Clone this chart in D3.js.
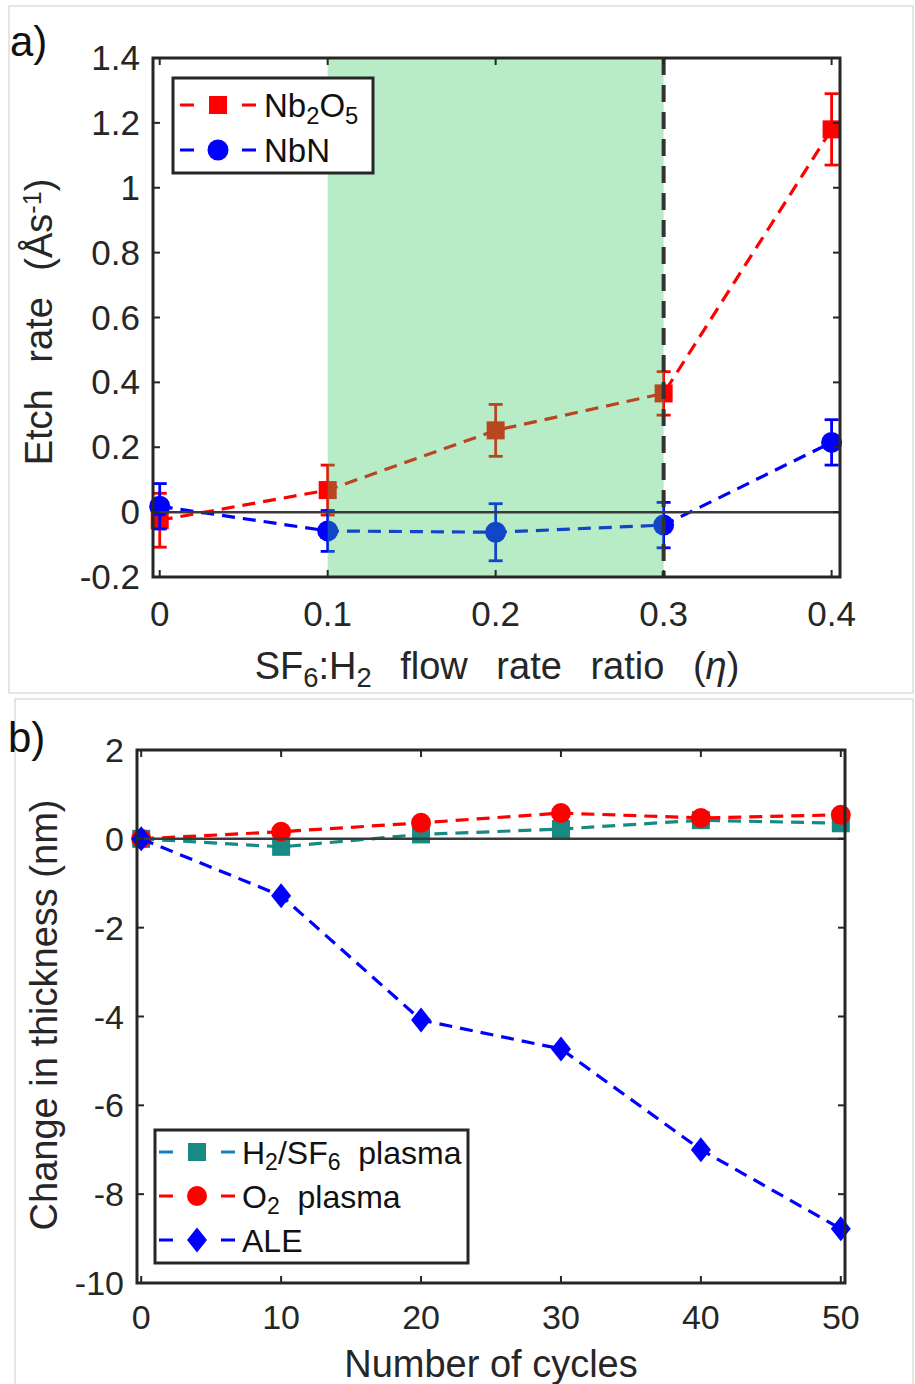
<!DOCTYPE html>
<html>
<head>
<meta charset="utf-8">
<script src="https://cdn.jsdelivr.net/npm/d3@7"></script>
<style>
  html, body { margin: 0; padding: 0; background: #fff; }
  svg { display: block; font-family: "Liberation Sans", Arial, sans-serif; }
</style>
</head>
<body>
<svg id="chart" width="915" height="1384"></svg>
<script>
// ---- panel a data ----
const ratio = [0, 0.1, 0.2, 0.3, 0.4];
const nb2o5Rate = [-0.025, 0.068, 0.252, 0.366, 1.18];
const nb2o5Err = [0.083, 0.077, 0.08, 0.067, 0.11];
const nbnRate = [0.018, -0.058, -0.062, -0.04, 0.215];
const nbnErr = [0.07, 0.063, 0.088, 0.07, 0.07];
const ratioTicks = [0, 0.1, 0.2, 0.3, 0.4];
const rateTicks = [-0.2, 0, 0.2, 0.4, 0.6, 0.8, 1, 1.2, 1.4];
const etchWindow = [0.1, 0.3];

// ---- panel b data ----
const cycles = [0, 10, 20, 30, 40, 50];
const h2sf6Change = [0, -0.18, 0.1, 0.22, 0.42, 0.35];
const o2Change = [0, 0.16, 0.36, 0.58, 0.47, 0.54];
const aleChange = [0, -1.28, -4.08, -4.73, -7.0, -8.78];
const cycleTicks = [0, 10, 20, 30, 40, 50];
const changeTicks = [-10, -8, -6, -4, -2, 0, 2];

const svg = d3.select('#chart');
const axisColor = '#262626';
const fmt = d => String(+d.toFixed(1));

function subText(sel, parts) {
    // parts: [text, isSub, isSup]
    parts.forEach(([t, sub, sup]) => {
        const ts = sel.append('tspan').text(t);
        if (sub) ts.attr('font-size', '0.72em').attr('baseline-shift', '-28%');
        if (sup) ts.attr('font-size', '0.66em').attr('baseline-shift', '45%');
    });
}

function frame(x0, y0, x1, y1) {
    svg.append('rect')
        .attr('x', x0).attr('y', y0)
        .attr('width', x1 - x0).attr('height', y1 - y0)
        .attr('fill', 'none').attr('stroke', '#d4d4d4').attr('stroke-width', 1.2);
}

function box(g, x, y, ticksX, ticksY, tickLen) {
    const [l, r] = x.range();
    const [b, t] = y.range();
    g.append('rect')
        .attr('x', l).attr('y', t).attr('width', r - l).attr('height', b - t)
        .attr('fill', 'none').attr('stroke', axisColor).attr('stroke-width', 3);
    ticksX.forEach(v => {
        g.append('line').attr('x1', x(v)).attr('x2', x(v)).attr('y1', b).attr('y2', b - tickLen)
            .attr('stroke', axisColor).attr('stroke-width', 2);
        g.append('line').attr('x1', x(v)).attr('x2', x(v)).attr('y1', t).attr('y2', t + tickLen)
            .attr('stroke', axisColor).attr('stroke-width', 2);
    });
    ticksY.forEach(v => {
        g.append('line').attr('x1', l).attr('x2', l + tickLen).attr('y1', y(v)).attr('y2', y(v))
            .attr('stroke', axisColor).attr('stroke-width', 2);
        g.append('line').attr('x1', r).attr('x2', r - tickLen).attr('y1', y(v)).attr('y2', y(v))
            .attr('stroke', axisColor).attr('stroke-width', 2);
    });
}

function marker(g, shape, cx, cy, size, color) {
    if (shape === 'square') {
        g.append('rect').attr('x', cx - size / 2).attr('y', cy - size / 2)
            .attr('width', size).attr('height', size).attr('fill', color);
    } else if (shape === 'circle') {
        g.append('circle').attr('cx', cx).attr('cy', cy).attr('r', size / 2).attr('fill', color);
    } else {
        const w = size * 0.8 / 2, h = size / 2;
        g.append('path')
            .attr('d', `M${cx},${cy - h}L${cx + w},${cy}L${cx},${cy + h}L${cx - w},${cy}Z`)
            .attr('fill', color);
    }
}

function series(g, x, y, xs, ys, errs, color, shape, size) {
    const line = d3.line().x((d, i) => x(xs[i])).y(d => y(d));
    g.append('path').datum(ys).attr('d', line)
        .attr('fill', 'none').attr('stroke', color).attr('stroke-width', 3.2)
        .attr('stroke-dasharray', '13,8');
    if (errs) {
        ys.forEach((v, i) => {
            const cx = x(xs[i]);
            const top = y(v + errs[i]), bot = y(v - errs[i]);
            g.append('line').attr('x1', cx).attr('x2', cx).attr('y1', top).attr('y2', bot)
                .attr('stroke', color).attr('stroke-width', 2.8);
            [top, bot].forEach(yy => g.append('line')
                .attr('x1', cx - 7).attr('x2', cx + 7).attr('y1', yy).attr('y2', yy)
                .attr('stroke', color).attr('stroke-width', 2.8));
        });
    }
    ys.forEach((v, i) => marker(g, shape, x(xs[i]), y(v), size, color));
}

function legend(g, x0, y0, x1, y1, entries, rowY, mx, tx, fs) {
    g.append('rect').attr('x', x0).attr('y', y0).attr('width', x1 - x0).attr('height', y1 - y0)
        .attr('fill', '#fff').attr('stroke', axisColor).attr('stroke-width', 3);
    entries.forEach((e, i) => {
        const yy = rowY[i];
        g.append('line').attr('x1', mx - 38).attr('x2', mx + 38).attr('y1', yy).attr('y2', yy)
            .attr('stroke', e.lineColor || e.color).attr('stroke-width', 3)
            .attr('stroke-dasharray', '14,48');
        marker(g, e.shape, mx, yy, e.size, e.color);
        const t = g.append('text').attr('x', tx).attr('y', yy + 12)
            .attr('font-size', fs).attr('fill', '#111').attr('xml:space', 'preserve');
        subText(t, e.label);
    });
}

// ================= panel a =================
frame(9, 6, 913, 693);
const xA = d3.scaleLinear().domain([-0.004, 0.405]).range([153, 840]);
const yA = d3.scaleLinear().domain([-0.2, 1.4]).range([577, 58]);
const gA = svg.append('g');

series(gA, xA, yA, ratio, nb2o5Rate, nb2o5Err, '#ff0000', 'square', 18);
series(gA, xA, yA, ratio, nbnRate, nbnErr, '#0000ff', 'circle', 21);

gA.append('rect')
    .attr('x', xA(etchWindow[0])).attr('y', yA(1.4))
    .attr('width', xA(etchWindow[1]) - xA(etchWindow[0])).attr('height', yA(-0.2) - yA(1.4))
    .attr('fill', 'rgb(50,200,95)').attr('fill-opacity', 0.35);

gA.append('line')
    .attr('x1', xA(etchWindow[1])).attr('x2', xA(etchWindow[1]))
    .attr('y1', yA(1.4)).attr('y2', yA(-0.2))
    .attr('stroke', '#333').attr('stroke-width', 4).attr('stroke-dasharray', '17,10');

gA.append('line')
    .attr('x1', xA.range()[0]).attr('x2', xA.range()[1]).attr('y1', yA(0)).attr('y2', yA(0))
    .attr('stroke', '#3a3a3a').attr('stroke-width', 2.5);

box(gA, xA, yA, ratioTicks, rateTicks, 7);

gA.selectAll('.xt').data(ratioTicks).enter().append('text')
    .attr('x', d => xA(d)).attr('y', 626).attr('text-anchor', 'middle')
    .attr('font-size', 35).attr('fill', '#262626').text(fmt);
gA.selectAll('.yt').data(rateTicks).enter().append('text')
    .attr('x', 140).attr('y', d => yA(d) + 12).attr('text-anchor', 'end')
    .attr('font-size', 35).attr('fill', '#262626').text(fmt);

const xlA = gA.append('text').attr('x', 497).attr('y', 679).attr('text-anchor', 'middle')
    .attr('font-size', 38).attr('fill', '#262626').attr('word-spacing', 18);
subText(xlA, [['SF'], ['6', true], [':H'], ['2', true], [' flow rate ratio ('], ['η'], [')']]);
xlA.selectAll('tspan').filter((d, i) => i === 5).attr('font-style', 'italic');

const ylA = gA.append('text').attr('transform', 'translate(52,322) rotate(-90)')
    .attr('text-anchor', 'middle').attr('font-size', 38).attr('fill', '#262626')
    .attr('word-spacing', 16);
subText(ylA, [['Etch rate (Ås'], ['-1', false, true], [')']]);

svg.append('text').attr('x', 10).attr('y', 56).attr('font-size', 42).attr('fill', '#111').text('a)');

legend(gA, 173, 78, 373, 173, [
    { label: [['Nb'], ['2', true], ['O'], ['5', true]], color: '#ff0000', shape: 'square', size: 18 },
    { label: [['NbN']], color: '#0000ff', shape: 'circle', size: 21 }
], [105, 150], 218, 264, 33);

// ================= panel b =================
frame(15, 699, 913, 1390);
const xB = d3.scaleLinear().domain([-0.3, 50.3]).range([137, 845]);
const yB = d3.scaleLinear().domain([-10, 2]).range([1283, 750]);
const gB = svg.append('g');

series(gB, xB, yB, cycles, h2sf6Change, null, '#188a84', 'square', 18);
series(gB, xB, yB, cycles, o2Change, null, '#ff0000', 'circle', 20);
series(gB, xB, yB, cycles, aleChange, null, '#0000ff', 'diamond', 25);

gB.append('line')
    .attr('x1', xB.range()[0]).attr('x2', xB.range()[1]).attr('y1', yB(0)).attr('y2', yB(0))
    .attr('stroke', '#3a3a3a').attr('stroke-width', 2.5);

box(gB, xB, yB, cycleTicks, changeTicks, 7);

gB.selectAll('.xt').data(cycleTicks).enter().append('text')
    .attr('x', d => xB(d)).attr('y', 1329).attr('text-anchor', 'middle')
    .attr('font-size', 34).attr('fill', '#262626').text(d => d);
gB.selectAll('.yt').data(changeTicks).enter().append('text')
    .attr('x', 124).attr('y', d => yB(d) + 12).attr('text-anchor', 'end')
    .attr('font-size', 34).attr('fill', '#262626').text(d => d);

gB.append('text').attr('x', 491).attr('y', 1377).attr('text-anchor', 'middle')
    .attr('font-size', 38).attr('fill', '#262626').text('Number of cycles');
gB.append('text').attr('transform', 'translate(57,1015) rotate(-90)')
    .attr('text-anchor', 'middle').attr('font-size', 38).attr('fill', '#262626')
    .text('Change in thickness (nm)');

svg.append('text').attr('x', 8).attr('y', 752).attr('font-size', 42).attr('fill', '#111').text('b)');

legend(gB, 155, 1130, 468, 1263, [
    { label: [['H'], ['2', true], ['/SF'], ['6', true], ['  plasma']], color: '#188a84', lineColor: '#1a7fc0', shape: 'square', size: 18 },
    { label: [['O'], ['2', true], ['  plasma']], color: '#ff0000', shape: 'circle', size: 20 },
    { label: [['ALE']], color: '#0000ff', shape: 'diamond', size: 25 }
], [1152, 1196, 1240], 197, 242, 32);
</script>
</body>
</html>
